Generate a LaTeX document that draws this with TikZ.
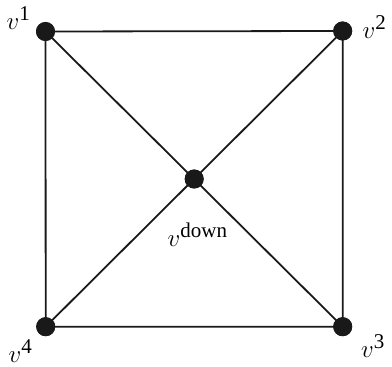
\documentclass[tikz,border=0pt]{standalone}
\usepackage{fontspec}
\setmainfont{Liberation Serif}
\newcommand{\supx}[1]{^{\hbox{\fontsize{21}{24}\selectfont #1}}}
\begin{document}
\begin{tikzpicture}[x=1pt,y=1pt,
  vert/.style={circle,fill=black!90,inner sep=0pt,minimum size=19pt},
  edge/.style={line width=1.8pt,black!90},
  lbl/.style={font=\fontsize{31}{35}\selectfont,inner sep=0pt,anchor=base west}]
\useasboundingbox (0,0) rectangle (392,367);
\node[vert] (v1) at (45.5,335.5) {};
\node[vert] (v2) at (342.7,336) {};
\node[vert] (v3) at (342.7,40.3) {};
\node[vert] (v4) at (45.7,40.3) {};
\node[vert] (c) at (194.2,188) {};
\draw[edge] (v1.center) -- (v2.center) -- (v3.center) -- (v4.center) -- cycle;
\draw[edge] (v1.center) -- (v3.center);
\draw[edge] (v2.center) -- (v4.center);
\node[vert] at (v1) {};
\node[vert] at (v2) {};
\node[vert] at (v3) {};
\node[vert] at (v4) {};
\node[vert] at (c) {};
\node[lbl] (l1) at (6.5,337) {$v\supx{1}$};
\node[lbl] (l2) at (362.5,328) {$v\supx{2}$};
\node[lbl] (l3) at (361,9) {$v\supx{3}$};
\node[lbl] (l4) at (8.5,4.5) {$v\supx{4}$};
\node[lbl] (ld) at (167.5,120) {$v\supx{down}$};
\end{tikzpicture}
\end{document}
